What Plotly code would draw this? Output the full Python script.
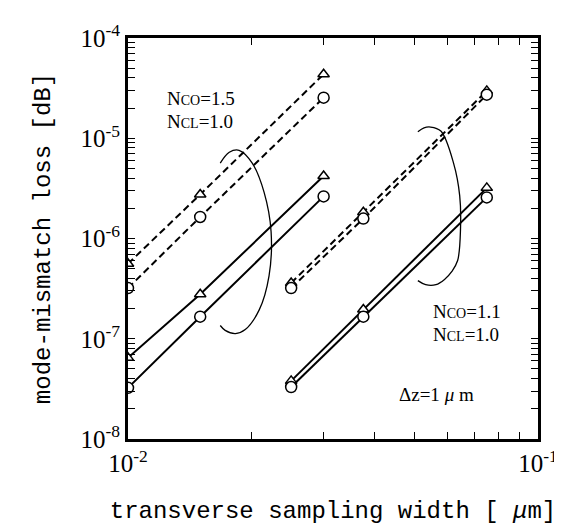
import plotly.graph_objects as go

# sampling widths [um]
x_a = [0.01, 0.015, 0.03]      # Nco=1.5 series
x_b = [0.025, 0.0375, 0.075]   # Nco=1.1 series

# mode-mismatch loss [dB]
a_dash_tri = [5.6e-7, 2.75e-6, 4.35e-5]
a_dash_cir = [3.2e-7, 1.64e-6, 2.54e-5]
a_solid_tri = [6.45e-8, 2.78e-7, 4.2e-6]
a_solid_cir = [3.24e-8, 1.66e-7, 2.63e-6]

b_dash_tri = [3.6e-7, 1.83e-6, 2.97e-5]
b_dash_cir = [3.2e-7, 1.58e-6, 2.72e-5]
b_solid_tri = [3.8e-8, 1.96e-7, 3.2e-6]
b_solid_cir = [3.3e-8, 1.66e-7, 2.57e-6]

x_ticks = [0.01, 0.1]
x_ticklabels = ["10<sup>-2</sup>", "10<sup>-1</sup>"]
y_ticks = [1e-8, 1e-7, 1e-6, 1e-5, 1e-4]
y_ticklabels = ["10<sup>-8</sup>", "10<sup>-7</sup>", "10<sup>-6</sup>", "10<sup>-5</sup>", "10<sup>-4</sup>"]

# bracket arcs (paper fractions)
arc_left_x = [0.225, 0.247, 0.271, 0.303, 0.332, 0.349, 0.344, 0.320, 0.286, 0.262, 0.237, 0.225]
arc_left_y = [0.688, 0.715, 0.720, 0.688, 0.615, 0.517, 0.407, 0.322, 0.273, 0.263, 0.271, 0.283]
arc_right_x = [0.707, 0.722, 0.738, 0.763, 0.794, 0.809, 0.811, 0.804, 0.790, 0.772, 0.751, 0.726, 0.707]
arc_right_y = [0.766, 0.776, 0.778, 0.768, 0.688, 0.607, 0.524, 0.445, 0.418, 0.398, 0.385, 0.385, 0.395]

fig = go.Figure()

def add(xs, ys, dash, sym):
    fig.add_trace(go.Scatter(
        x=xs, y=ys, mode="lines+markers",
        line=dict(color="black", width=2, dash=dash),
        marker=dict(symbol=sym, size=11 if sym == "circle" else 10,
                    color="white", line=dict(color="black", width=1.5)),
        showlegend=False, hoverinfo="skip"))

add(x_a, a_dash_tri, "7px,4px", "triangle-up")
add(x_a, a_dash_cir, "7px,4px", "circle")
add(x_a, a_solid_tri, "solid", "triangle-up")
add(x_a, a_solid_cir, "solid", "circle")
add(x_b, b_dash_tri, "7px,4px", "triangle-up")
add(x_b, b_dash_cir, "7px,4px", "circle")
add(x_b, b_solid_tri, "solid", "triangle-up")
add(x_b, b_solid_cir, "solid", "circle")

for ax_x, ax_y in ((arc_left_x, arc_left_y), (arc_right_x, arc_right_y)):
    fig.add_trace(go.Scatter(
        x=[10 ** (-2 + v) for v in ax_x],
        y=[10 ** (-8 + 4 * v) for v in ax_y],
        mode="lines", line=dict(color="black", width=1.3, shape="spline"),
        showlegend=False, hoverinfo="skip"))

serif = "Liberation Serif"
mono = "Liberation Mono"

def label(x, y, text, size=19):
    fig.add_annotation(x=x, y=y, xref="paper", yref="paper", text=text,
                       showarrow=False, xanchor="left", yanchor="middle",
                       font=dict(family=serif, size=size, color="black"))

sub = "<span style='font-size:14px'>{}</span>"
label(0.09, 0.849, "N" + sub.format("CO") + "=1.5")
label(0.09, 0.791, "N" + sub.format("CL") + "=1.0")
label(0.739, 0.319, "N" + sub.format("CO") + "=1.1")
label(0.739, 0.261, "N" + sub.format("CL") + "=1.0")
label(0.655, 0.112, "Δz=1 <i>μ</i> m")

axis_common = dict(
    showline=True, linecolor="black", linewidth=3, mirror="ticks",
    ticks="inside", ticklen=7, tickwidth=1.3, tickcolor="black",
    showgrid=False, zeroline=False,
    tickfont=dict(family=serif, size=25, color="black"),
)

fig.update_xaxes(type="log", range=[-2, -1], tickvals=x_ticks, ticktext=x_ticklabels,
                 minor=dict(ticks="inside", ticklen=7, tickwidth=1.3, tickcolor="black",
                            dtick="D1", showgrid=False),
                 title=dict(text="transverse sampling width [ <i>μ</i>m]",
                            font=dict(family=mono, size=24, color="black"), standoff=26),
                 **axis_common)
fig.update_yaxes(type="log", range=[-8, -4], tickvals=y_ticks, ticktext=y_ticklabels,
                 minor=dict(ticks="inside", ticklen=7, tickwidth=1.3, tickcolor="black",
                            dtick="D1", showgrid=False),
                 title=dict(text="mode-mismatch loss [dB]",
                            font=dict(family=mono, size=24, color="black"), standoff=24),
                 **axis_common)

fig.update_layout(width=562, height=524, margin=dict(l=120, r=29, t=22, b=92),
                  plot_bgcolor="white", paper_bgcolor="white")

fig.write_html("out.html")
